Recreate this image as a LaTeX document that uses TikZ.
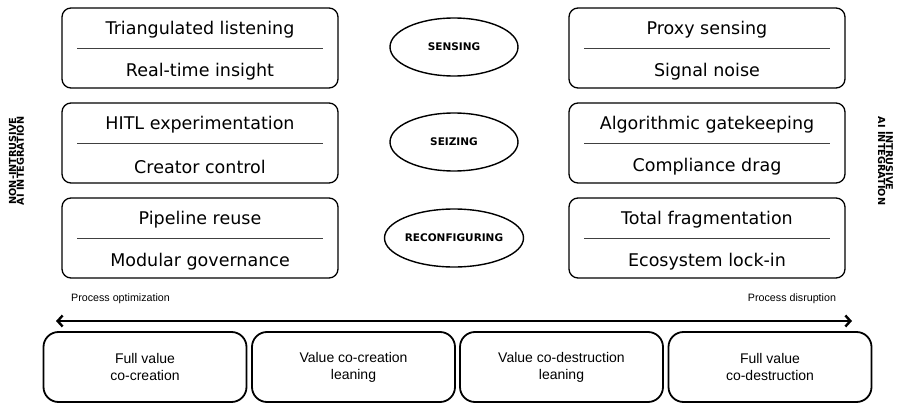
\documentclass[tikz,border=0pt]{standalone}
\usepackage{fontspec}
\usepackage{tikz}
\usetikzlibrary{shapes.geometric, positioning, arrows.meta}
\newfontfamily\dejavu{DejaVu Sans}
\newfontfamily\arialf{Liberation Sans}

\tikzset{
    pairbox/.style={draw, line width=1.3pt, rounded corners=9pt, minimum width=276pt, minimum height=80pt, inner sep=0pt},
    pairtxt/.style={font=\dejavu\fontsize{17.5}{20}\selectfont, inner sep=0pt},
    pairsep/.style={draw=black!75, line width=0.7pt},
    phase/.style={draw, ellipse, line width=1.4pt, minimum width=128pt, minimum height=58pt, inner sep=0pt, font=\dejavu\bfseries\fontsize{10.5}{12}\selectfont},
    sidelabel/.style={align=center, inner sep=0pt, font=\dejavu\bfseries\fontsize{9.7}{7.6}\selectfont},
    endlabel/.style={inner sep=0pt, font=\arialf\fontsize{10.7}{12}\selectfont},
    valuebox/.style={draw, line width=1.8pt, rounded corners=15pt, minimum width=203pt, minimum height=70pt, inner sep=0pt, align=center, font=\arialf\fontsize{14}{17}\selectfont}
}

\begin{document}
\begin{tikzpicture}[x=1pt, y=-1pt]
    \useasboundingbox (0,0) rectangle (900,404);
    % capability rows
    \foreach \name/\x/\y/\top/\bot in {%
        l1/200/48/Triangulated listening/Real-time insight,
        l2/200/143/HITL experimentation/Creator control,
        l3/200/238/Pipeline reuse/Modular governance,
        r1/707/48/Proxy sensing/Signal noise,
        r2/707/143/Algorithmic gatekeeping/Compliance drag,
        r3/707/238/Total fragmentation/Ecosystem lock-in}
    {
        \node[pairbox] (\name) at (\x,\y) {};
        \node[pairtxt] (\name a) at (\x,\y-18) {\top};
        \node[pairtxt] (\name b) at (\x,\y+24) {\bot};
        \draw[pairsep] ([xshift=16pt]\name.west) -- ([xshift=-16pt]\name.east);
    }
    \node[phase] (sensing) at (454,47) {SENSING};
    \node[phase] (seizing) at (454,142) {SEIZING};
    \node[phase] (reconf) at (454,238) {RECONFIGURING};

    \node[sidelabel, rotate=90] (nonintr) at (16.5,161) {NON-INTRUSIVE\\AI INTEGRATION};
    \node[sidelabel, rotate=-90] (intr) at (885.5,161) {INTRUSIVE\\AI INTEGRATION};

    % continuum
    \node[endlabel] (optim) at (120.5,299) {Process optimization};
    \node[endlabel] (disrupt) at (792,299) {Process disruption};
    \coordinate (pleft) at (56,321);
    \coordinate (pright) at (852,321);
    \draw[{Straight Barb[length=5pt,width=11pt]}-{Straight Barb[length=5pt,width=11pt]}, line width=2.4pt] (pleft) -- (pright);

    \node[valuebox] (v1) at (145,367) {Full value\\co-creation};
    \node[valuebox] (v2) at (353.5,367) {Value co-creation\\leaning};
    \node[valuebox] (v3) at (561.5,367) {Value co-destruction\\leaning};
    \node[valuebox] (v4) at (770,367) {Full value\\co-destruction};
\end{tikzpicture}
\end{document}
